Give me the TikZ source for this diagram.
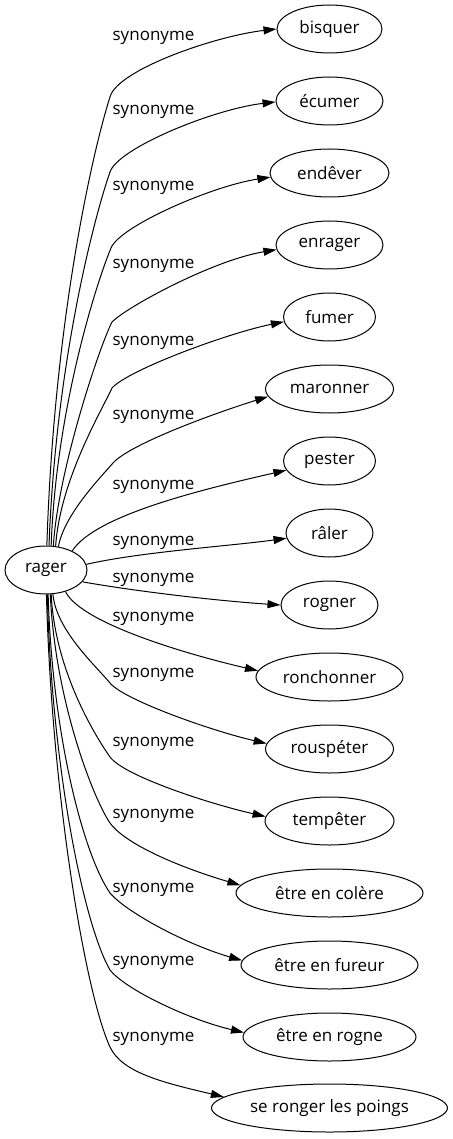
\documentclass[tikz,border=0pt]{standalone}
\usepackage{fontspec}
\setmainfont{Open Sans}
\usetikzlibrary{arrows.meta,shapes.geometric}
\tikzset{
  word/.style={ellipse,draw,line width=1pt,inner sep=0pt,minimum height=48pt,font=\fontsize{17}{20}\selectfont},
  lab/.style={inner sep=0pt,font=\fontsize{17}{20}\selectfont},
  edge/.style={line width=1pt,-{Triangle[length=13pt,width=8pt]}}
}
\begin{document}
\begin{tikzpicture}[x=1pt,y=-1pt]
\useasboundingbox (0,0) rectangle (452,1139);
\node[word,minimum width=82pt] (r) at (46,570) {rager};
\node[word,minimum width=105pt] (n1) at (329.5,29) {bisquer};
\node[word,minimum width=107pt] (n2) at (329.5,101) {écumer};
\node[word,minimum width=119pt] (n3) at (329.5,173) {endêver};
\node[word,minimum width=107pt] (n4) at (329.5,245) {enrager};
\node[word,minimum width=92pt] (n5) at (329.5,317) {fumer};
\node[word,minimum width=128pt] (n6) at (329.5,389) {maronner};
\node[word,minimum width=92pt] (n7) at (329.5,461) {pester};
\node[word,minimum width=87pt] (n8) at (329.5,533) {râler};
\node[word,minimum width=97pt] (n9) at (329.5,605) {rogner};
\node[word,minimum width=147pt] (n10) at (329.5,677) {ronchonner};
\node[word,minimum width=128pt] (n11) at (329.5,749) {rouspéter};
\node[word,minimum width=129pt] (n12) at (329.5,821) {tempêter};
\node[word,minimum width=187pt] (n13) at (329.5,893) {être en colère};
\node[word,minimum width=177pt] (n14) at (329.5,965) {être en fureur};
\node[word,minimum width=173pt] (n15) at (329.5,1037) {être en rogne};
\node[word,minimum width=236pt] (n16) at (329.5,1108) {se ronger les poings};

\node[lab] (l1) at (153.5,37.5) {synonyme};
\node[lab] (l2) at (153.5,111.5) {synonyme};
\node[lab] (l3) at (153.5,187.5) {synonyme};
\node[lab] (l4) at (153.5,265.5) {synonyme};
\node[lab] (l5) at (153.5,342.5) {synonyme};
\node[lab] (l6) at (153.5,416.5) {synonyme};
\node[lab] (l7) at (153.5,486.5) {synonyme};
\node[lab] (l8) at (153.5,542.5) {synonyme};
\node[lab] (l9) at (153.5,579.5) {synonyme};
\node[lab] (l10) at (153.5,618.5) {synonyme};
\node[lab] (l11) at (153.5,674.5) {synonyme};
\node[lab] (l12) at (153.5,743.5) {synonyme};
\node[lab] (l13) at (153.5,815.5) {synonyme};
\node[lab] (l14) at (153.5,889.5) {synonyme};
\node[lab] (l15) at (153.5,962.5) {synonyme};
\node[lab] (l16) at (153.5,1038.5) {synonyme};

\draw[edge] (r.88) .. controls (54,320) and (93,150) .. (110,97) .. controls (117,70) and (215,36) .. (n1.180);
\draw[edge] (r.83) .. controls (56,360) and (95,215) .. (110,172) .. controls (118,148) and (214,109) .. (n2.181);
\draw[edge] (r.78) .. controls (56,410) and (96,284) .. (111,248) .. controls (120,226) and (212,186) .. (n3.184);
\draw[edge] (r.73) .. controls (58,470) and (100,345) .. (112,322) .. controls (128,306) and (214,260) .. (n4.185);
\draw[edge] (r.68) .. controls (60,480) and (102,410) .. (112,388) .. controls (128,370) and (228,333) .. (n5.186);
\draw[edge] (r.62) .. controls (64,515) and (100,478) .. (113,463) .. controls (130,444) and (215,413) .. (n6.187);
\draw[edge] (r.36) .. controls (95,515) and (204,489) .. (n7.192);
\draw[edge] (r.8) .. controls (140,552) and (230,546) .. (n8.187);
\draw[edge] (r.-18) .. controls (140,592) and (220,601) .. (n9.180);
\draw[edge] (r.-48) .. controls (82,625) and (198,657) .. (n10.175);
\draw[edge] (r.-74) .. controls (56,630) and (96,666) .. (110,683) .. controls (124,700) and (212,731) .. (n11.175);
\draw[edge] (r.-78) .. controls (55,670) and (94,734) .. (110,757) .. controls (124,776) and (210,804) .. (n12.176);
\draw[edge] (r.-80) .. controls (55,700) and (93,798) .. (110,823) .. controls (126,845) and (182,868) .. (n13.175);
\draw[edge] (r.-85) .. controls (52,730) and (82,852) .. (110,893) .. controls (127,913) and (188,945) .. (n14.177);
\draw[edge] (r.-87) .. controls (52,770) and (84,925) .. (110,970) .. controls (126,990) and (190,1020) .. (n15.177);
\draw[edge] (r.-89) .. controls (52,800) and (86,995) .. (110,1047) .. controls (122,1073) and (165,1083) .. (n16.174.5);
\end{tikzpicture}
\end{document}
